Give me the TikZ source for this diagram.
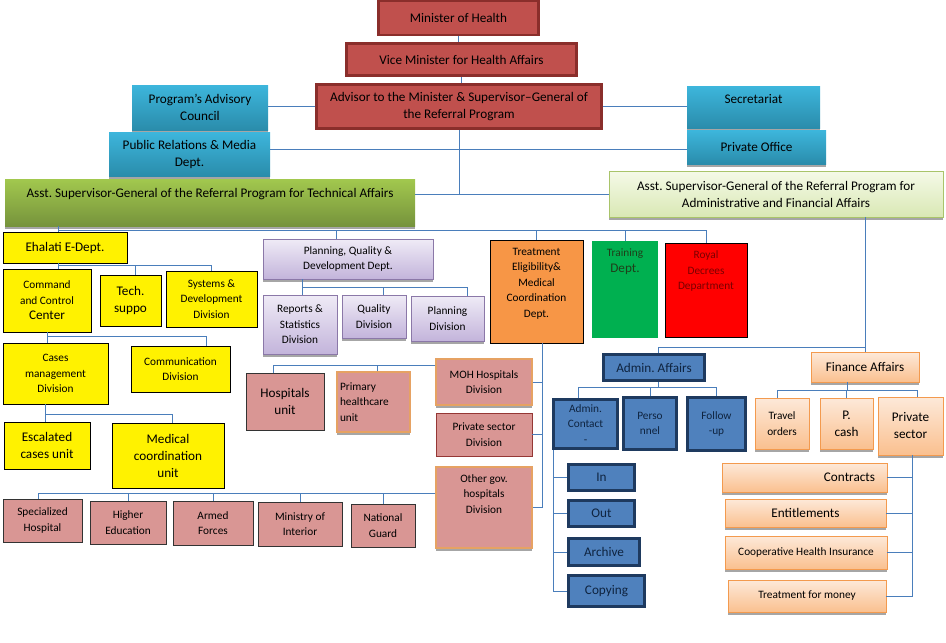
\documentclass[tikz,border=0pt]{standalone}
\usepackage{fontspec}
\setmainfont{Carlito}
\usetikzlibrary{shadows}
\frenchspacing

\definecolor{linkblue}{HTML}{4A7EBB}
\definecolor{redfill}{HTML}{C0504D}
\definecolor{redline}{HTML}{8A2E2B}
\definecolor{cyantop}{HTML}{3DB6DC}
\definecolor{cyanbot}{HTML}{2A8CAB}
\definecolor{greentop}{HTML}{A2C84E}
\definecolor{greenbot}{HTML}{76933C}
\definecolor{palegreentop}{HTML}{F5FAE8}
\definecolor{palegreenbot}{HTML}{D9E8B4}
\definecolor{palegreenline}{HTML}{A9C46A}
\definecolor{lilactop}{HTML}{EFEBF6}
\definecolor{lilacbot}{HTML}{C3B4DB}
\definecolor{lilacline}{HTML}{8B78A8}
\definecolor{rose}{HTML}{D99694}
\definecolor{roseline}{HTML}{E6A263}
\definecolor{darkrose}{HTML}{953735}
\definecolor{treatorange}{HTML}{F79646}
\definecolor{traingreen}{HTML}{00B050}
\definecolor{traintext}{HTML}{1F3F1A}
\definecolor{royalred}{HTML}{FF0000}
\definecolor{royaltext}{HTML}{7A0000}
\definecolor{admfill}{HTML}{4F81BD}
\definecolor{admline}{HTML}{1E3A5F}
\definecolor{admtext}{HTML}{0F2440}
\definecolor{peachtop}{HTML}{FDE9D9}
\definecolor{peachbot}{HTML}{FAC08F}
\definecolor{peachline}{HTML}{F39A4E}

\newcommand\fsM{\fontsize{11.3}{15.5}\selectfont}
\newcommand\fsL{\fontsize{13.2}{17}\selectfont}

\tikzset{
  box/.style={rectangle, inner sep=2pt, align=center, font=\fsM},
  boxshadow/.style={drop shadow={shadow xshift=0pt, shadow yshift=-2.5pt, fill=gray!70, opacity=1}},
  redbox/.style={box, fill=redfill, draw=redline, line width=2.5pt, font=\fsL},
  cyanbox/.style={box, top color=cyantop, bottom color=cyanbot, font=\fsL, boxshadow},
  greenbox/.style={box, top color=greentop, bottom color=greenbot, boxshadow},
  palebox/.style={box, top color=palegreentop, bottom color=palegreenbot, draw=palegreenline, line width=0.8pt, font=\fsL, boxshadow},
  yellowbox/.style={box, fill=yellow, draw=black, line width=0.8pt},
  lilacbox/.style={box, top color=lilactop, bottom color=lilacbot, draw=lilacline, line width=0.8pt, boxshadow},
  rosebox/.style={box, fill=rose, draw=black!80, line width=0.8pt},
  roseobox/.style={rosebox, draw=roseline, line width=1.2pt, boxshadow},
  admbox/.style={box, fill=admfill, draw=admline, line width=3pt, text=admtext},
  peachbox/.style={box, top color=peachtop, bottom color=peachbot, draw=peachline, line width=0.8pt, font=\fsL, boxshadow},
  toptext/.style={anchor=north, inner sep=0pt, yshift=-8pt, align=center},
  link/.style={draw=linkblue, line width=0.9pt},
}

\begin{document}
\begin{tikzpicture}[x=1pt, y=-1pt]
    \useasboundingbox (0,0) rectangle (946,643);

    % Leitung
    \node[redbox, minimum width=160, minimum height=34] (minister) at (458.5,18) {Minister of Health};
    \node[redbox, minimum width=230, minimum height=32] (vice) at (461.5,59.5) {Vice Minister for Health Affairs};
    \node[redbox, minimum width=285, minimum height=44] (advisor) at (459,106.5) {Advisor to the Minister \& Supervisor–General of\\the Referral Program};

    % Stabsstellen
    \node[cyanbox, minimum width=136, minimum height=45] (council) at (200,107.5) {Program’s Advisory\\Council};
    \node[cyanbox, minimum width=161, minimum height=44] (media) at (189.5,154) {Public Relations \& Media\\Dept.};
    \node[cyanbox, minimum width=133, minimum height=42, label={[toptext, font=\fsL, name=secretlabel]north:Secretariat}] (secret) at (753.5,107) {};
    \node[cyanbox, minimum width=139, minimum height=34] (office) at (756.5,147) {Private Office};

    % Assistenten
    \node[greenbox, minimum width=410, minimum height=47, label={[toptext, font=\fsL, yshift=-1pt, name=techlabel]north:Asst. Supervisor-General of the Referral Program for Technical Affairs}] (techasst) at (210,202.5) {};
    \node[palebox, minimum width=334, minimum height=46] (adminasst) at (776,194) {Asst. Supervisor-General of the Referral Program for\\Administrative and Financial Affairs};

    % Ehalati
    \node[yellowbox, font=\fsL, minimum width=124, minimum height=31] (ehalati) at (65,247.5) {Ehalati E-Dept.};
    \node[yellowbox, minimum width=88, minimum height=63] (command) at (47,300.5) {Command\\and Control\\{\fsL Center}};
    \node[yellowbox, font=\fsL, minimum width=61, minimum height=51] (techsupport) at (130.5,300.5) {Tech.\\suppo};
    \node[yellowbox, minimum width=91, minimum height=56] (systems) at (211.5,299) {Systems \&\\Development\\Division};
    \node[yellowbox, minimum width=105, minimum height=61] (cases) at (55.5,373.5) {Cases\\management\\Division};
    \node[yellowbox, minimum width=99, minimum height=46] (communication) at (180.5,369) {Communication\\Division};
    \node[yellowbox, font=\fsL, minimum width=86, minimum height=47] (escalated) at (47,445.5) {Escalated\\cases unit};
    \node[yellowbox, font=\fsL, minimum width=112, minimum height=65] (medical) at (168,455.5) {Medical\\coordination\\unit};

    % andere Krankenhaeuser
    \node[rosebox, minimum width=79, minimum height=43] (specialized) at (42.5,520.5) {Specialized\\Hospital};
    \node[rosebox, minimum width=76, minimum height=43] (higher) at (128,522.5) {Higher\\Education};
    \node[rosebox, minimum width=80, minimum height=44] (armed) at (213,523) {Armed\\Forces};
    \node[rosebox, minimum width=84, minimum height=44] (interior) at (300,524) {Ministry of\\Interior};
    \node[rosebox, minimum width=64, minimum height=43] (guard) at (383,525.5) {National\\Guard};

    % Planung
    \node[lilacbox, minimum width=170, minimum height=40] (planning) at (348,259) {Planning, Quality \&\\Development Dept.};
    \node[lilacbox, minimum width=74, minimum height=59] (reports) at (300,324.5) {Reports \&\\Statistics\\Division};
    \node[lilacbox, minimum width=64, minimum height=43] (quality) at (374,316.5) {Quality\\Division};
    \node[lilacbox, minimum width=73, minimum height=45] (plandiv) at (447.5,318.5) {Planning\\Division};

    % Behandlung
    \node[box, fill=treatorange, draw=black, line width=0.8pt, minimum width=93, minimum height=103, label={[toptext, font=\fsM, name=treatlabel]north:Treatment\\Eligibility\&\\Medical\\Coordination\\Dept.}] (treatment) at (536.5,291.5) {};
    \node[rosebox, font=\fsL, minimum width=78, minimum height=57] (hospitals) at (285,401.5) {Hospitals\\unit};
    \node[roseobox, align=left, text width=67, inner xsep=3pt, minimum height=60] (primary) at (373.5,402) {Primary\\healthcare\\unit};
    \node[roseobox, minimum width=96, minimum height=46] (moh) at (484,382) {MOH Hospitals\\Division};
    \node[rosebox, draw=darkrose, minimum width=96, minimum height=43] (privdiv) at (484,434.5) {Private sector\\Division};
    \node[roseobox, minimum width=96, minimum height=81, label={[toptext, font=\fsM, name=otherlabel]north:Other gov.\\hospitals\\Division}] (othergov) at (484,507.5) {};

    % Schulung, Erlasse
    \node[box, fill=traingreen, minimum width=66, minimum height=97, label={[toptext, font=\fsM, text=traintext, name=trainlabel]north:Training\\{\fsL Dept.}}] (training) at (625,289.5) {};
    \node[box, fill=royalred, draw=black, line width=0.8pt, minimum width=82, minimum height=94, label={[toptext, font=\fsM, text=royaltext, name=royallabel]north:Royal\\Decrees\\Department}] (royal) at (706,290) {};

    % Verwaltung
    \node[admbox, font=\fsL, minimum width=101, minimum height=26] (adminaffairs) at (654,367.5) {Admin. Affairs};
    \node[admbox, minimum width=64, minimum height=49] (contact) at (585.5,424) {Admin.\\Contact\\-};
    \node[admbox, minimum width=53, minimum height=52] (personnel) at (650,423.5) {Perso\\nnel};
    \node[admbox, minimum width=58, minimum height=53] (followup) at (716.5,424) {Follow\\-up};
    \node[admbox, font=\fsL, minimum width=66, minimum height=26] (incoming) at (601.5,477.5) {In};
    \node[admbox, font=\fsL, minimum width=66, minimum height=26] (outgoing) at (601.5,513.5) {Out};
    \node[admbox, font=\fsL, minimum width=71, minimum height=27] (archive) at (604,552) {Archive};
    \node[admbox, font=\fsL, minimum width=76, minimum height=31] (copying) at (606.5,591) {Copying};

    % Finanzen
    \node[peachbox, minimum width=108, minimum height=30] (finance) at (865,367) {Finance Affairs};
    \node[peachbox, font=\fsM, minimum width=54, minimum height=51] (travel) at (782,423.5) {Travel\\orders};
    \node[peachbox, minimum width=53, minimum height=51] (pcash) at (846.5,423.5) {P.\\cash};
    \node[peachbox, minimum width=65, minimum height=58] (privsector) at (910.5,426) {Private\\sector};
    \node[peachbox, align=right, text width=141, inner xsep=12pt, minimum height=29] (contracts) at (804.5,477.5) {Contracts};
    \node[peachbox, minimum width=161, minimum height=28] (entitlements) at (805.5,513) {Entitlements};
    \node[peachbox, font=\fsM, minimum width=162, minimum height=33] (coop) at (806,552.5) {Cooperative Health Insurance};
    \node[peachbox, font=\fsM, minimum width=158, minimum height=32] (money) at (807,596) {Treatment for money};

    % Verbindungen oben
    \draw[link] (minister.south) -- (minister.south |- vice.north);
    \draw[link] (vice.south) -- (vice.south |- advisor.north);
    \draw[link] (advisor.west) -- (council.east |- advisor.west);
    \draw[link] (advisor.east) -- (secret.west |- advisor.east);
    \draw[link] ([yshift=-2pt]office.west) -- ([yshift=-2pt]media.east |- office.west);
    \draw[link] (adminasst.west) -- (techasst.east |- adminasst.west);
    \draw[link] (advisor.south) -- (advisor.south |- adminasst.west);

    % technische Abteilungen
    \coordinate (techbus) at (0,230);
    \coordinate (ehtop) at ([xshift=-7pt]ehalati.north);
    \coordinate (plantop) at ([xshift=-12pt]planning.north);
    \draw[link] (ehtop |- techasst.south) -- (ehtop);
    \draw[link] (ehtop |- techbus) -| (royal.north);
    \draw[link] (plantop) -- (plantop |- techbus);
    \draw[link] (treatment.north) -- (treatment.north |- techbus);
    \draw[link] (training.north) -- (training.north |- techbus);

    % Ehalati
    \coordinate (ebus) at (0,265);
    \coordinate (ehbot) at ([xshift=-7pt]ehalati.south);
    \coordinate (tstop) at ([xshift=5pt]techsupport.north);
    \draw[link] (ehbot) -- (ehbot |- command.north);
    \draw[link] (ehbot |- ebus) -| (systems.north);
    \draw[link] (tstop) -- (tstop |- ebus);

    \coordinate (cbus) at (0,336);
    \draw[link] (command.south) -- (command.south |- cases.north);
    \draw[link] (command.south |- cbus) -| ([xshift=26pt]communication.north);

    \coordinate (mbus) at (0,414);
    \coordinate (casebot) at ([xshift=-10pt]cases.south);
    \draw[link] (casebot) -- (casebot |- escalated.north);
    \draw[link] (casebot |- mbus) -| ([xshift=4pt]medical.north);

    % Planung
    \coordinate (pbus) at (0,287);
    \coordinate (planbot) at ([xshift=-46pt]planning.south);
    \coordinate (qtop) at ([xshift=9pt]quality.north);
    \draw[link] (planbot) -- (planbot |- reports.north);
    \draw[link] (planbot |- pbus) -| ([xshift=20pt]plandiv.north);
    \draw[link] (qtop) -- (qtop |- pbus);

    % Behandlung
    \coordinate (treatbot) at ([xshift=6pt]treatment.south);
    \draw[link] (treatbot) |- (othergov.east);
    \draw[link] (moh.east) -- (moh.east -| treatbot);
    \draw[link] (privdiv.east) -- (privdiv.east -| treatbot);

    \coordinate (hbus) at (0,365);
    \coordinate (phctop) at ([xshift=4pt]primary.north);
    \draw[link] (moh.west |- hbus) -| ([xshift=-12pt]hospitals.north);
    \draw[link] (phctop) -- (phctop |- hbus);

    \coordinate (obus) at (0,493);
    \draw[link] (othergov.west |- obus) -| ([xshift=-4pt]specialized.north);
    \foreach \n in {higher,armed,interior,guard}
        \draw[link] (\n.north) -- (\n.north |- obus);

    % Verwaltung und Finanzen
    \coordinate (abus) at (0,347);
    \draw[link] (finance.north |- adminasst.south) -- (finance.north);
    \draw[link] (finance.north |- abus) -| ([xshift=4pt]adminaffairs.north);

    \coordinate (bbus) at (0,387);
    \coordinate (aabot) at ([xshift=4pt]adminaffairs.south);
    \coordinate (ctop) at ([xshift=-7pt]contact.north);
    \draw[link] (aabot) -- (aabot |- bbus);
    \draw[link] (ctop) |- (bbus -| followup.north) -- (followup.north);
    \draw[link] (personnel.north) -- (personnel.north |- bbus);

    \coordinate (cv) at ([xshift=1pt]contact.south west);
    \draw[link] (cv) |- (copying.west);
    \foreach \n in {incoming,outgoing,archive}
        \draw[link] (\n.west) -- (\n.west -| cv);

    \coordinate (fbus) at (0,390);
    \coordinate (fbot) at ([xshift=-18pt]finance.south);
    \coordinate (trtop) at ([xshift=-5pt]travel.north);
    \coordinate (pstop) at ([xshift=7pt]privsector.north);
    \draw[link] (fbot) -- (fbot |- fbus);
    \draw[link] (trtop) |- (fbus -| pstop) -- (pstop);
    \draw[link] (pcash.north) -- (pcash.north |- fbus);

    \coordinate (psv) at ([xshift=2pt]privsector.south);
    \draw[link] (psv) |- (money.east);
    \foreach \n in {contracts,entitlements,coop}
        \draw[link] (\n.east) -- (\n.east -| psv);

\end{tikzpicture}
\end{document}
